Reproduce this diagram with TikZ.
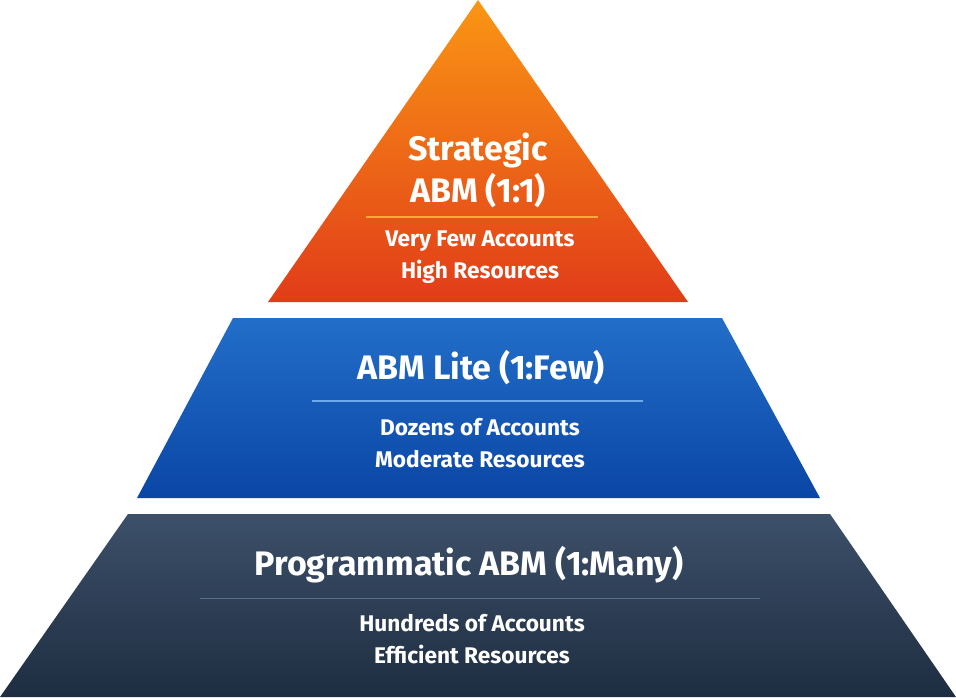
\documentclass[tikz,border=0pt]{standalone}
\usepackage{fontspec}
\setmainfont{Fira Sans}
\definecolor{orTop}{RGB}{250,150,20}
\definecolor{orBot}{RGB}{225,60,25}
\definecolor{orLine}{RGB}{250,170,60}
\definecolor{blTop}{RGB}{34,110,200}
\definecolor{blBot}{RGB}{10,70,165}
\definecolor{blLine}{RGB}{110,170,235}
\definecolor{dkTop}{RGB}{60,80,105}
\definecolor{dkBot}{RGB}{30,45,65}
\definecolor{dkLine}{RGB}{90,110,135}
\begin{document}
\begin{tikzpicture}[x=0.75pt,y=-0.75pt,
  title/.style={text=white,font=\fontsize{25.5}{31.5}\selectfont\bfseries,align=center},
  sub/.style={text=white,font=\fontsize{17}{24}\selectfont\bfseries,align=center}]
\useasboundingbox (0,0) rectangle (956,697);
\fill[white] (0,0) rectangle (956,697);
% top
\shade[top color=orTop,bottom color=orBot] (478,0) -- (688,302) -- (268,302) -- cycle;
\draw[orLine,line width=0.8pt] (366,217) -- (598,217);
\node[title] (t1) at (478,170) {Strategic\\ABM (1:1)};
\node[sub] (s1) at (480,257) {Very Few Accounts\\High Resources};
% middle
\shade[top color=blTop,bottom color=blBot] (233,318) -- (722,318) -- (820,498) -- (137,498) -- cycle;
\draw[blLine,line width=0.8pt] (312,401) -- (643,401);
\node[title] (t2) at (481,368) {ABM Lite (1:Few)};
\node[sub] (s2) at (480,443) {Dozens of Accounts\\Moderate Resources};
% bottom
\shade[top color=dkTop,bottom color=dkBot] (128,514) -- (830,514) -- (956,697) -- (0,697) -- cycle;
\draw[dkLine,line width=0.6pt] (200,598) -- (760,598);
\node[title] (t3) at (469,565) {Programmatic ABM (1:Many)};
\node[sub] (s3) at (472,639) {Hundreds of Accounts\\Efficient Resources};
\end{tikzpicture}
\end{document}
